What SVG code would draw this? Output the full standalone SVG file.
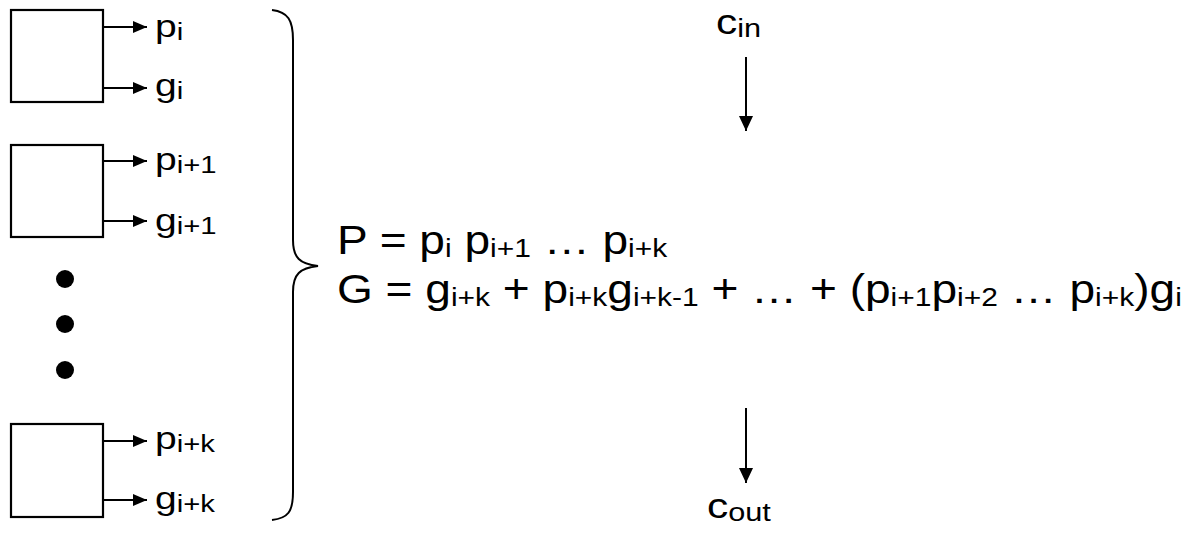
<svg xmlns="http://www.w3.org/2000/svg" width="1191" height="533" viewBox="0 0 1191 533">
<style>
.box{fill:#fff;stroke:#000;stroke-width:2.2}
.ln{stroke:#000;stroke-width:2;fill:none}
.t{font-family:"Liberation Sans",Arial,sans-serif;fill:#000}
.lab{font-size:32px}
.eq{font-size:40px}
.cr{font-size:36px}
.s{font-size:26px}
.ls{font-size:24px}
</style>
<defs>
<marker id="ah" markerWidth="14" markerHeight="12" refX="14" refY="6" orient="auto" markerUnits="userSpaceOnUse">
<path d="M0,0 L14,6 L0,12 Z" fill="#000"/>
</marker>
<marker id="ahc" markerWidth="15" markerHeight="14" refX="15" refY="7" orient="auto" markerUnits="userSpaceOnUse">
<path d="M0,0 L15,7 L0,14 Z" fill="#000"/>
</marker>
</defs>
<rect width="1191" height="533" fill="#fff"/>
<g id="block-i">
<rect class="box" x="11" y="10" width="92" height="92"/>
<g transform="translate(155,0) scale(1.22,1)">
<text class="t lab" x="0" y="37">p<tspan class="ls" dy="3">i</tspan></text>
<text class="t lab" x="0" y="96">g<tspan class="ls" dy="3">i</tspan></text>
</g>
</g>
<g id="block-i1">
<rect class="box" x="11" y="145" width="92" height="92"/>
<g transform="translate(155,0) scale(1.22,1)">
<text class="t lab" x="0" y="170">p<tspan class="ls" dy="3">i+1</tspan></text>
<text class="t lab" x="0" y="231">g<tspan class="ls" dy="3">i+1</tspan></text>
</g>
</g>
<g id="dots">
<circle cx="65" cy="279" r="9"/>
<circle cx="65" cy="324" r="9"/>
<circle cx="65" cy="370" r="9"/>
</g>
<g id="block-ik">
<rect class="box" x="11" y="424" width="92" height="93"/>
<g transform="translate(155,0) scale(1.22,1)">
<text class="t lab" x="0" y="449">p<tspan class="ls" dy="3">i+k</tspan></text>
<text class="t lab" x="0" y="509">g<tspan class="ls" dy="3">i+k</tspan></text>
</g>
</g>
<g id="brace">
<path class="ln" d="M272,10 C288,12 293,20 293,40 L293,240 C293,258 300,264 318,266 C300,268 293,274 293,292 L293,492 C293,512 288,518 272,520"/>
</g>
<g id="equations" transform="translate(337,0) scale(1.152,1)">
<text class="t eq" x="0" y="254">P = p<tspan class="s" dy="3">i</tspan><tspan dy="-3"> p</tspan><tspan class="s" dy="3">i+1</tspan><tspan dy="-3"> … p</tspan><tspan class="s" dy="3">i+k</tspan></text>
<text class="t eq" x="0" y="303">G = g<tspan class="s" dy="3">i+k</tspan><tspan dy="-3"> + p</tspan><tspan class="s" dy="3">i+k</tspan><tspan dy="-3">g</tspan><tspan class="s" dy="3">i+k-1</tspan><tspan dy="-3"> + … + (p</tspan><tspan class="s" dy="3">i+1</tspan><tspan dy="-3">p</tspan><tspan class="s" dy="3">i+2</tspan><tspan dy="-3"> … p</tspan><tspan class="s" dy="3">i+k</tspan><tspan dy="-3">)g</tspan><tspan class="s" dy="3">i</tspan></text>
</g>
<g id="carry-in" transform="translate(716,0) scale(1.18,1)">
<text class="t cr" x="0" y="34">c<tspan class="s" dy="3">in</tspan></text>
</g>
<g id="carry-out" transform="translate(707,0) scale(1.18,1)">
<text class="t cr" x="0" y="518">c<tspan class="s" dy="3">out</tspan></text>
</g>
<g id="connectors">
<line class="ln" x1="103" y1="27" x2="147" y2="27" marker-end="url(#ah)"/>
<line class="ln" x1="103" y1="88" x2="147" y2="88" marker-end="url(#ah)"/>
<line class="ln" x1="103" y1="161" x2="147" y2="161" marker-end="url(#ah)"/>
<line class="ln" x1="103" y1="221" x2="147" y2="221" marker-end="url(#ah)"/>
<line class="ln" x1="103" y1="441" x2="147" y2="441" marker-end="url(#ah)"/>
<line class="ln" x1="103" y1="500" x2="147" y2="500" marker-end="url(#ah)"/>
<line class="ln" x1="746" y1="57" x2="746" y2="131" marker-end="url(#ahc)"/>
<line class="ln" x1="746" y1="408" x2="746" y2="483" marker-end="url(#ahc)"/>
</g>
</svg>
